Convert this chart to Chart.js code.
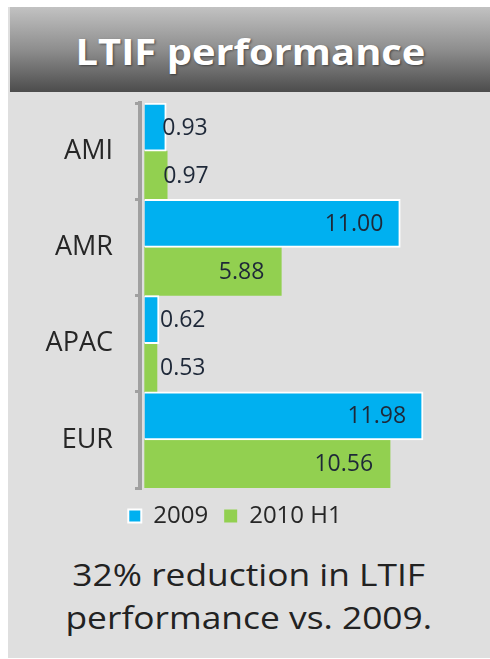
<!DOCTYPE html>
<html>
<head>
<meta charset="utf-8">
<script src="https://cdn.jsdelivr.net/npm/chart.js@4/dist/chart.umd.min.js"></script>
<style>
    body { margin: 0; background: #fff; width: 490px; height: 659px; overflow: hidden; position: relative; font-family: "Open Sans", sans-serif; }
    #panel { position: absolute; left: 8px; top: 7px; width: 482px; height: 651px; background: #dfdfdf; }
    #title {
        position: absolute; left: 10px; top: 7px; width: 480px; height: 85px;
        background: linear-gradient(#c2c2c2, #8e8e8e 50%, #4c4c4c);
        color: #fff; font-weight: bold; font-size: 35px; text-align: center;
        line-height: 85px; padding-top: 2px; box-sizing: border-box;
        text-shadow: 1px 1px 2px rgba(0,0,0,0.45);
    }
    #title span { display: inline-block; transform: scaleX(1.14); }
    #chartBox { position: absolute; left: 0; top: 92px; width: 490px; height: 450px; }
    #note {
        position: absolute; left: 8px; top: 553px; width: 482px; text-align: center;
        font-size: 31px; line-height: 43px; color: #222;
    }
    #note span { display: inline-block; transform: scaleX(1.14); }
</style>
</head>
<body>
<div id="panel"></div>
<div id="title"><span>LTIF performance</span></div>
<div id="chartBox"><canvas id="myChart" width="490" height="450"></canvas></div>
<div id="note"><span>32% reduction in LTIF</span><br><span>performance vs. 2009.</span></div>

<script>
const regions = ["AMI", "AMR", "APAC", "EUR"];
const seriesNames = ["2009", "2010 H1"];
const values2009 = [0.93, 11.00, 0.62, 11.98];
const values2010 = [0.97, 5.88, 0.53, 10.56];

const blue = "#00b0f0";
const green = "#92d050";

// draws the value next to / inside each bar
const barLabels = {
    id: "barLabels",
    afterDatasetsDraw(chart) {
        const ctx = chart.ctx;
        ctx.save();
        ctx.font = "23px 'Open Sans'";
        ctx.fillStyle = "#1e2838";
        ctx.textBaseline = "middle";
        chart.data.datasets.forEach((ds, i) => {
            chart.getDatasetMeta(i).data.forEach((bar, j) => {
                const v = ds.data[j];
                const txt = v.toFixed(2);
                if (v > 3) {
                    ctx.textAlign = "right";
                    ctx.fillText(txt, bar.x - 17, bar.y + 1);
                } else {
                    ctx.textAlign = "left";
                    ctx.fillText(txt, Math.max(bar.x - 4, 160), bar.y + 1);
                }
            });
        });
        ctx.restore();
    }
};

function plotChart() {
    const ctx = document.getElementById("myChart").getContext("2d");
    new Chart(ctx, {
        type: "bar",
        data: {
            labels: regions,
            datasets: [
                { label: seriesNames[0], data: values2009, backgroundColor: blue, borderColor: "#ffffff", borderWidth: 2 },
                { label: seriesNames[1], data: values2010, backgroundColor: green, borderWidth: 0 }
            ]
        },
        options: {
            indexAxis: "y",
            responsive: false,
            animation: false,
            layout: { padding: { top: 11, right: 20, bottom: 4, left: 0 } },
            datasets: { bar: { categoryPercentage: 1, barPercentage: 1 } },
            scales: {
                x: { display: false, min: -0.2, max: 14 },
                y: {
                    afterFit: (s) => { s.width = 140; s.paddingTop = 0; s.paddingBottom = 0; },
                    grid: { offset: true, drawOnChartArea: false, drawTicks: true, tickLength: 5, color: "#a0a0a0", lineWidth: 3 },
                    border: { display: true, color: "#a0a0a0", width: 4 },
                    ticks: { color: "#262626", padding: 22, font: { family: "'Open Sans'", size: 27 } }
                }
            },
            plugins: {
                legend: {
                    position: "bottom",
                    labels: {
                        boxWidth: 13, boxHeight: 13, padding: 16, color: "#262626",
                        font: { family: "'Open Sans'", size: 24 }
                    }
                },
                tooltip: { enabled: false }
            }
        },
        plugins: [barLabels]
    });
}

plotChart();
</script>
</body>
</html>
